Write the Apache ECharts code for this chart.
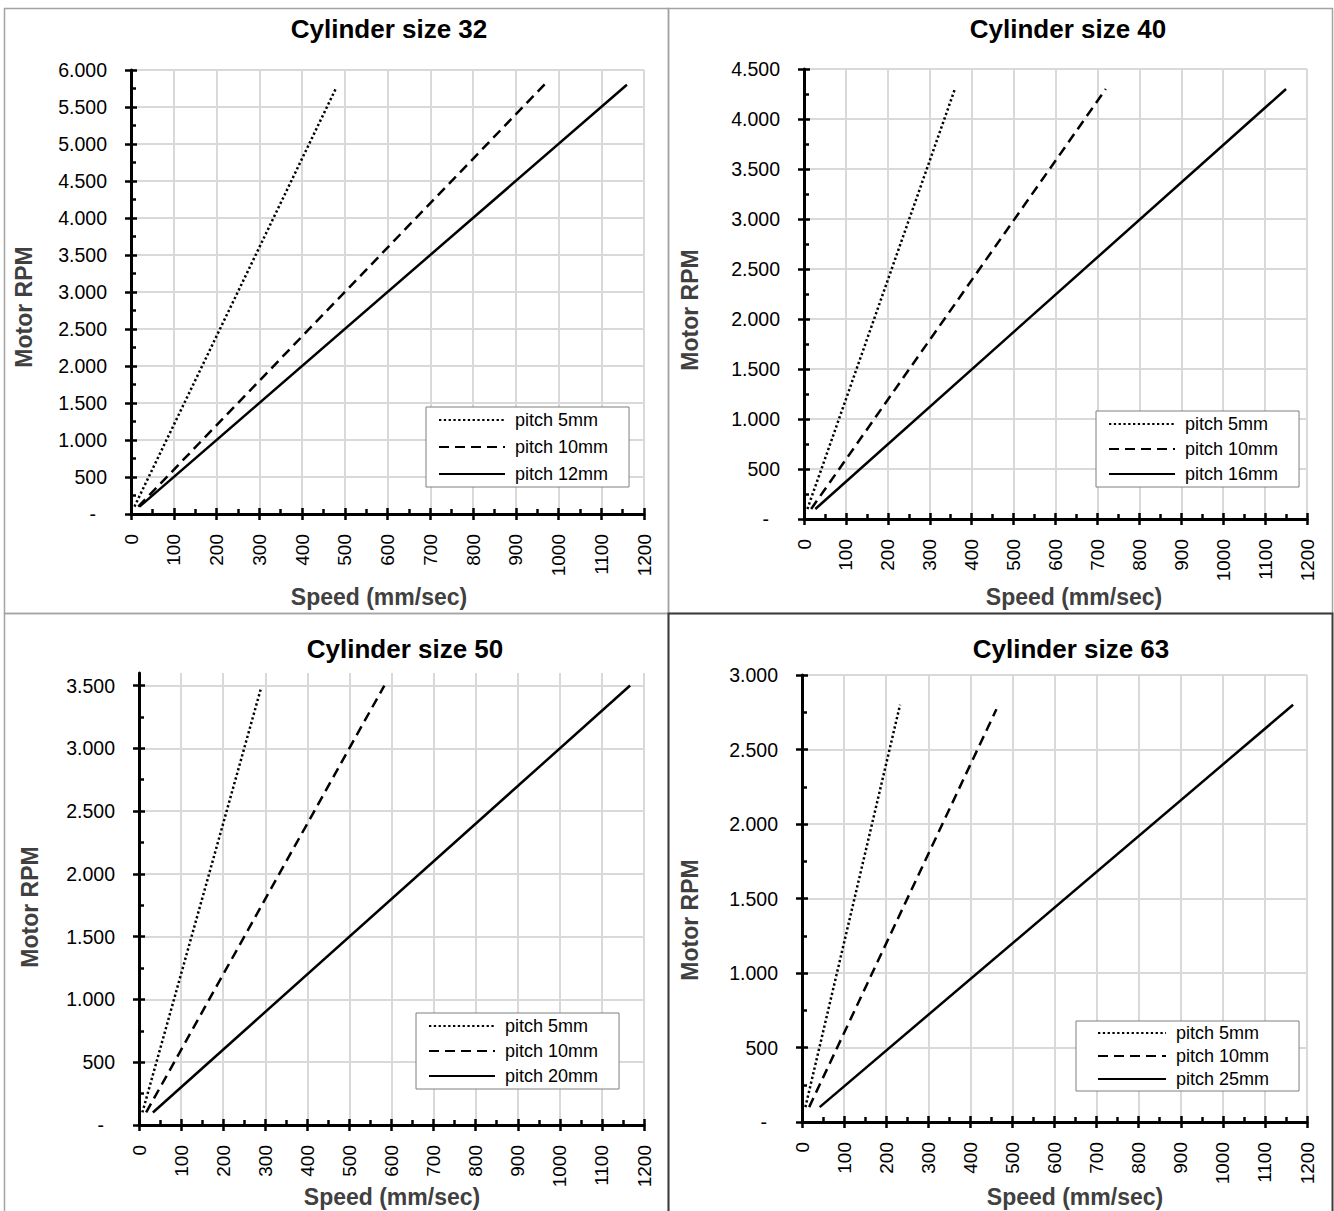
<!DOCTYPE html>
<html>
<head>
<meta charset="utf-8">
<script src="https://cdn.jsdelivr.net/npm/echarts@6/dist/echarts.min.js"></script>
<style>
  html, body { margin: 0; padding: 0; background: #fff; }
  #chart { width: 1334px; height: 1211px; }
</style>
</head>
<body>
<div id="chart"></div>
<script>
// ---------------- DATA ----------------
const titles = ['Cylinder size 32', 'Cylinder size 40', 'Cylinder size 50', 'Cylinder size 63'];
const xAxisTitle = 'Speed (mm/sec)';
const yAxisTitle = 'Motor RPM';
const xTickValues = [0, 100, 200, 300, 400, 500, 600, 700, 800, 900, 1000, 1100, 1200];
const yMaxes = [6000, 4500, 3600, 3000];
const yTicks32 = [0, 500, 1000, 1500, 2000, 2500, 3000, 3500, 4000, 4500, 5000, 5500, 6000];
const yTicks40 = [0, 500, 1000, 1500, 2000, 2500, 3000, 3500, 4000, 4500];
const yTicks50 = [0, 500, 1000, 1500, 2000, 2500, 3000, 3500];
const yTicks63 = [0, 500, 1000, 1500, 2000, 2500, 3000];

const names32 = ['pitch 5mm', 'pitch 10mm', 'pitch 12mm'];
const names40 = ['pitch 5mm', 'pitch 10mm', 'pitch 16mm'];
const names50 = ['pitch 5mm', 'pitch 10mm', 'pitch 20mm'];
const names63 = ['pitch 5mm', 'pitch 10mm', 'pitch 25mm'];

// [speed mm/s, motor rpm]
const c32_p5  = [[8, 100], [480, 5760]];
const c32_p10 = [[17, 100], [970, 5820]];
const c32_p12 = [[20, 100], [1160, 5800]];

const c40_p5  = [[8, 100], [360, 4300]];
const c40_p10 = [[17, 100], [720, 4300]];
const c40_p16 = [[27, 100], [1150, 4300]];

const c50_p5  = [[8, 100], [290, 3480]];
const c50_p10 = [[17, 100], [583, 3500]];
const c50_p20 = [[33, 100], [1167, 3500]];

const c63_p5  = [[8, 100], [233, 2800]];
const c63_p10 = [[17, 100], [462, 2770]];
const c63_p25 = [[42, 100], [1167, 2800]];

const panelNames = [names32, names40, names50, names63];
const panelData = [[c32_p5, c32_p10, c32_p12], [c40_p5, c40_p10, c40_p16], [c50_p5, c50_p10, c50_p20], [c63_p5, c63_p10, c63_p25]];
const panelYTicks = [yTicks32, yTicks40, yTicks50, yTicks63];

// ---------------- LAYOUT / STYLE ----------------
const FONT = '"Liberation Sans", Arial, Helvetica, sans-serif';
const layouts = [
  { grid: { left: 131, top: 70, width: 513, height: 444 }, title: [389, 29], xName: [379, 597], yName: [24, 307],
    legend: { left: 426, top: 407, itemGap: 7, padding: [3, 21, 3, 12], itemWidth: 66 } },
  { grid: { left: 804, top: 69, width: 503, height: 450 }, title: [1068, 29], xName: [1074, 597], yName: [690, 310],
    legend: { left: 1096, top: 411, itemGap: 5, padding: [3, 21, 3, 12], itemWidth: 66 } },
  { grid: { left: 139, top: 673, width: 505, height: 452 }, title: [405, 649], xName: [392, 1197], yName: [30, 907],
    legend: { left: 416, top: 1013, itemGap: 5, padding: [3, 21, 3, 12], itemWidth: 66 } },
  { grid: { left: 802, top: 675, width: 505, height: 447 }, title: [1071, 649], xName: [1075, 1197], yName: [690, 920],
    legend: { left: 1076, top: 1021, itemGap: 3, padding: [2, 30, 2, 21], itemWidth: 68 } }
];
const lineTypes = [[2.3, 2.5], [10, 6], 'solid'];

function fmtY(v) {
  if (v === 0) return '{d|-}';
  return String(v).replace(/\B(?=(\d{3})+(?!\d))/g, '.');
}
function fmtX(v) { return String(v); }

const grids = [], xAxes = [], yAxes = [], series = [], legends = [], graphics = [];

// panel borders
graphics.push({ type: 'rect', shape: { x: 4.5, y: 8.5, width: 664, height: 605 }, style: { fill: 'none', stroke: '#a3a3a3', lineWidth: 1.5 } });
graphics.push({ type: 'rect', shape: { x: 668.5, y: 8.5, width: 664, height: 605 }, style: { fill: 'none', stroke: '#a3a3a3', lineWidth: 1.5 } });
graphics.push({ type: 'rect', shape: { x: 4.5, y: 613.5, width: 664, height: 620 }, style: { fill: 'none', stroke: '#a3a3a3', lineWidth: 1.5 } });
graphics.push({ type: 'rect', shape: { x: 668.5, y: 613.5, width: 664, height: 620 }, style: { fill: 'none', stroke: '#3c3c3c', lineWidth: 2 } });

layouts.forEach((L, i) => {
  grids.push(Object.assign({ containLabel: false }, L.grid));
  const yMax = yMaxes[i];
  const yT = panelYTicks[i];
  // primary axes
  xAxes.push({
    type: 'value', gridIndex: i, min: 0, max: 1200, interval: 100, position: 'bottom',
    axisLine: { show: true, onZero: false, lineStyle: { color: '#000', width: 3 } },
    axisTick: { show: true, inside: false, length: 6, lineStyle: { color: '#000', width: 2.5 } },
    axisLabel: { show: true, rotate: 90, margin: 20, color: '#000', fontSize: 19, fontFamily: FONT, formatter: fmtX,
      customValues: xTickValues },
    splitLine: { show: true, lineStyle: { color: '#d9d9d9', width: 2 } },
    minorTick: { show: false }
  });
  // overlay axes (inside ticks + minor ticks)
  xAxes.push({
    type: 'value', gridIndex: i, min: 0, max: 1200, interval: 100, position: 'bottom',
    axisLine: { show: false },
    axisTick: { show: true, inside: true, length: 6, lineStyle: { color: '#000', width: 2.5 } },
    minorTick: { show: true, splitNumber: 2, length: 5, lineStyle: { color: '#000', width: 2.5 } },
    axisLabel: { show: false }, splitLine: { show: false }
  });
  yAxes.push({
    type: 'value', gridIndex: i, min: 0, max: yMax, interval: 500, position: 'left',
    axisLine: { show: true, onZero: false, lineStyle: { color: '#000', width: 3 } },
    axisTick: { show: true, inside: false, length: 6, lineStyle: { color: '#000', width: 2.5 }, customValues: yT },
    axisLabel: { show: true, margin: 24, color: '#000', fontSize: 19.5, fontFamily: FONT, formatter: fmtY,
      customValues: yT,
      rich: { d: { fontSize: 19.5, fontFamily: FONT, color: '#000', padding: [0, 11, 0, 0] } } },
    splitLine: { show: true, lineStyle: { color: '#d9d9d9', width: 2 } },
    minorTick: { show: false }
  });
  yAxes.push({
    type: 'value', gridIndex: i, min: 0, max: yMax, interval: 500, position: 'left',
    axisLine: { show: false },
    axisTick: { show: true, inside: true, length: 6, lineStyle: { color: '#000', width: 2.5 }, customValues: yT },
    minorTick: { show: true, splitNumber: 2, length: 5, lineStyle: { color: '#000', width: 2.5 } },
    axisLabel: { show: false }, splitLine: { show: false }
  });

  panelNames[i].forEach((nm, k) => {
    series.push({
      type: 'line', name: nm, xAxisIndex: 2 * i, yAxisIndex: 2 * i,
      data: panelData[i][k], symbol: 'none', silent: true, animation: false, z: 5,
      itemStyle: { color: '#000' },
      lineStyle: { color: '#000', width: 2.5, type: lineTypes[k], cap: 'butt' }
    });
  });

  legends.push({
    orient: 'vertical', left: L.legend.left, top: L.legend.top,
    itemGap: L.legend.itemGap, padding: L.legend.padding,
    itemWidth: L.legend.itemWidth, itemHeight: 14,
    backgroundColor: '#fff', borderColor: '#7f7f7f', borderWidth: 1, borderRadius: 0,
    selectedMode: false, data: panelNames[i],
    itemStyle: { opacity: 0, borderWidth: 0 },
    textStyle: { fontSize: 18, fontFamily: FONT, color: '#000', lineHeight: 20, padding: [0, 0, 0, 5] }
  });

  graphics.push({ type: 'text', x: L.title[0], y: L.title[1],
    style: { text: titles[i], font: 'bold 26px ' + FONT, fill: '#000', textAlign: 'center', textVerticalAlign: 'middle', align: 'center', verticalAlign: 'middle' } });
  graphics.push({ type: 'text', x: L.xName[0], y: L.xName[1],
    style: { text: xAxisTitle, font: 'bold 23px ' + FONT, fill: '#404040', textAlign: 'center', textVerticalAlign: 'middle', align: 'center', verticalAlign: 'middle' } });
  graphics.push({ type: 'text', x: L.yName[0], y: L.yName[1], rotation: Math.PI / 2,
    style: { text: yAxisTitle, font: 'bold 23px ' + FONT, fill: '#404040', textAlign: 'center', textVerticalAlign: 'middle', align: 'center', verticalAlign: 'middle' } });
});

const chart = echarts.init(document.getElementById('chart'), null, { renderer: 'svg', width: 1334, height: 1211 });
chart.setOption({
  backgroundColor: '#fff',
  animation: false,
  grid: grids,
  xAxis: xAxes,
  yAxis: yAxes,
  legend: legends,
  series: series,
  graphic: graphics
});
</script>
</body>
</html>
